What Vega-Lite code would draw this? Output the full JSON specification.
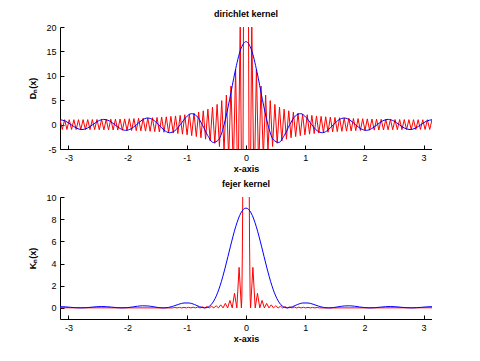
{
  "$schema": "https://vega.github.io/schema/vega-lite/v6.json",
  "padding": {"left": 28, "top": 10, "right": 0, "bottom": 0},
  "spacing": 7,
  "config": {
    "view": {"stroke": null},
    "font": "Liberation Sans",
    "axis": {"grid": false, "domainColor": "#000", "tickColor": "#000", "labelColor": "#000", "titleColor": "#000", "labelFont": "Liberation Sans", "titleFont": "Liberation Sans", "labelFontSize": 9, "titleFontSize": 9, "titleFontWeight": "bold", "tickSize": -4, "labelPadding": 8, "domainWidth": 1, "tickWidth": 1},
    "axisX": {"titlePadding": 2},
    "axisY": {"titlePadding": 8},
    "title": {"fontSize": 9, "fontWeight": "bold", "font": "Liberation Sans", "offset": 4, "color": "#000"}
  },
  "datasets": {
    "dRed": [
      {"x": -3.1416, "y": 1.0}, {"x": -3.1026, "y": -1.0}, {"x": -3.0636, "y": 1.001}, {"x": -3.0246, "y": -1.002}, {"x": -2.9855, "y": 1.003}, {"x": -2.9465, "y": -1.005}, {"x": -2.9075, "y": 1.007}, {"x": -2.8685, "y": -1.009}, {"x": -2.8294, "y": 1.012}, {"x": -2.7904, "y": -1.016}, {"x": -2.7514, "y": 1.019}, {"x": -2.7124, "y": -1.024}, {"x": -2.6733, "y": 1.028}, {"x": -2.6343, "y": -1.033}, {"x": -2.5953, "y": 1.039}, {"x": -2.5562, "y": -1.044}, {"x": -2.5172, "y": 1.051}, {"x": -2.4782, "y": -1.058}, {"x": -2.4392, "y": 1.065}, {"x": -2.4001, "y": -1.073}, {"x": -2.3611, "y": 1.081}, {"x": -2.3221, "y": -1.09}, {"x": -2.2831, "y": 1.1}, {"x": -2.244, "y": -1.11}, {"x": -2.205, "y": 1.121}, {"x": -2.166, "y": -1.132}, {"x": -2.127, "y": 1.144}, {"x": -2.0879, "y": -1.157}, {"x": -2.0489, "y": 1.17}, {"x": -2.0099, "y": -1.185}, {"x": -1.9708, "y": 1.2}, {"x": -1.9318, "y": -1.216}, {"x": -1.8928, "y": 1.233}, {"x": -1.8538, "y": -1.25}, {"x": -1.8147, "y": 1.269}, {"x": -1.7757, "y": -1.289}, {"x": -1.7367, "y": 1.31}, {"x": -1.6977, "y": -1.332}, {"x": -1.6586, "y": 1.356}, {"x": -1.6196, "y": -1.381}, {"x": -1.5806, "y": 1.407}, {"x": -1.5416, "y": -1.435}, {"x": -1.5025, "y": 1.465}, {"x": -1.4635, "y": -1.497}, {"x": -1.4245, "y": 1.53}, {"x": -1.3854, "y": -1.566}, {"x": -1.3464, "y": 1.604}, {"x": -1.3074, "y": -1.644}, {"x": -1.2684, "y": 1.688}, {"x": -1.2293, "y": -1.734}, {"x": -1.1903, "y": 1.784}, {"x": -1.1513, "y": -1.837}, {"x": -1.1123, "y": 1.894}, {"x": -1.0732, "y": -1.956}, {"x": -1.0342, "y": 2.023}, {"x": -0.9952, "y": -2.095}, {"x": -0.9562, "y": 2.174}, {"x": -0.9171, "y": -2.259}, {"x": -0.8781, "y": 2.353}, {"x": -0.8391, "y": -2.454}, {"x": -0.8, "y": 2.567}, {"x": -0.761, "y": -2.692}, {"x": -0.722, "y": 2.831}, {"x": -0.683, "y": -2.986}, {"x": -0.6439, "y": 3.16}, {"x": -0.6049, "y": -3.357}, {"x": -0.5659, "y": 3.582}, {"x": -0.5269, "y": -3.84}, {"x": -0.4878, "y": 4.141}, {"x": -0.4488, "y": -4.494}, {"x": -0.4098, "y": 4.915}, {"x": -0.3708, "y": -5.425}, {"x": -0.3317, "y": 6.057}, {"x": -0.2927, "y": -6.857}, {"x": -0.2537, "y": 7.905}, {"x": -0.2146, "y": -9.336}, {"x": -0.1756, "y": 11.4}, {"x": -0.1366, "y": -14.65}, {"x": -0.0976, "y": 20.51}, {"x": -0.0585, "y": -34.17}, {"x": -0.0195, "y": 102.5},
      {"x": 0, "y": 161},
      {"x": 0.0195, "y": 102.5}, {"x": 0.0585, "y": -34.17}, {"x": 0.0976, "y": 20.51}, {"x": 0.1366, "y": -14.65}, {"x": 0.1756, "y": 11.4}, {"x": 0.2146, "y": -9.336}, {"x": 0.2537, "y": 7.905}, {"x": 0.2927, "y": -6.857}, {"x": 0.3317, "y": 6.057}, {"x": 0.3708, "y": -5.425}, {"x": 0.4098, "y": 4.915}, {"x": 0.4488, "y": -4.494}, {"x": 0.4878, "y": 4.141}, {"x": 0.5269, "y": -3.84}, {"x": 0.5659, "y": 3.582}, {"x": 0.6049, "y": -3.357}, {"x": 0.6439, "y": 3.16}, {"x": 0.683, "y": -2.986}, {"x": 0.722, "y": 2.831}, {"x": 0.761, "y": -2.692}, {"x": 0.8, "y": 2.567}, {"x": 0.8391, "y": -2.454}, {"x": 0.8781, "y": 2.353}, {"x": 0.9171, "y": -2.259}, {"x": 0.9562, "y": 2.174}, {"x": 0.9952, "y": -2.095}, {"x": 1.0342, "y": 2.023}, {"x": 1.0732, "y": -1.956}, {"x": 1.1123, "y": 1.894}, {"x": 1.1513, "y": -1.837}, {"x": 1.1903, "y": 1.784}, {"x": 1.2293, "y": -1.734}, {"x": 1.2684, "y": 1.688}, {"x": 1.3074, "y": -1.644}, {"x": 1.3464, "y": 1.604}, {"x": 1.3854, "y": -1.566}, {"x": 1.4245, "y": 1.53}, {"x": 1.4635, "y": -1.497}, {"x": 1.5025, "y": 1.465}, {"x": 1.5416, "y": -1.435}, {"x": 1.5806, "y": 1.407}, {"x": 1.6196, "y": -1.381}, {"x": 1.6586, "y": 1.356}, {"x": 1.6977, "y": -1.332}, {"x": 1.7367, "y": 1.31}, {"x": 1.7757, "y": -1.289}, {"x": 1.8147, "y": 1.269}, {"x": 1.8538, "y": -1.25}, {"x": 1.8928, "y": 1.233}, {"x": 1.9318, "y": -1.216}, {"x": 1.9708, "y": 1.2}, {"x": 2.0099, "y": -1.185}, {"x": 2.0489, "y": 1.17}, {"x": 2.0879, "y": -1.157}, {"x": 2.127, "y": 1.144}, {"x": 2.166, "y": -1.132}, {"x": 2.205, "y": 1.121}, {"x": 2.244, "y": -1.11}, {"x": 2.2831, "y": 1.1}, {"x": 2.3221, "y": -1.09}, {"x": 2.3611, "y": 1.081}, {"x": 2.4001, "y": -1.073}, {"x": 2.4392, "y": 1.065}, {"x": 2.4782, "y": -1.058}, {"x": 2.5172, "y": 1.051}, {"x": 2.5562, "y": -1.044}, {"x": 2.5953, "y": 1.039}, {"x": 2.6343, "y": -1.033}, {"x": 2.6733, "y": 1.028}, {"x": 2.7124, "y": -1.024}, {"x": 2.7514, "y": 1.019}, {"x": 2.7904, "y": -1.016}, {"x": 2.8294, "y": 1.012}, {"x": 2.8685, "y": -1.009}, {"x": 2.9075, "y": 1.007}, {"x": 2.9465, "y": -1.005}, {"x": 2.9855, "y": 1.003}, {"x": 3.0246, "y": -1.002}, {"x": 3.0636, "y": 1.001}, {"x": 3.1026, "y": -1.0}, {"x": 3.1416, "y": 1.0}
    ],
    "dBlue": [
      {"x": -3.1416, "y": 1.0}, {"x": -3.0492, "y": 0.708}, {"x": -2.9568, "y": 0}, {"x": -2.8644, "y": -0.714}, {"x": -2.772, "y": -1.017}, {"x": -2.6796, "y": -0.726}, {"x": -2.5872, "y": 0}, {"x": -2.4948, "y": 0.746}, {"x": -2.4024, "y": 1.072}, {"x": -2.31, "y": 0.773}, {"x": -2.2176, "y": 0}, {"x": -2.1252, "y": -0.81}, {"x": -2.0328, "y": -1.176}, {"x": -1.9404, "y": -0.857}, {"x": -1.848, "y": 0}, {"x": -1.7556, "y": 0.919}, {"x": -1.6632, "y": 1.353}, {"x": -1.5708, "y": 1.0}, {"x": -1.4784, "y": 0}, {"x": -1.386, "y": -1.107}, {"x": -1.2936, "y": -1.659}, {"x": -1.2012, "y": -1.251}, {"x": -1.1088, "y": 0}, {"x": -1.0164, "y": 1.453}, {"x": -0.924, "y": 2.244}, {"x": -0.8316, "y": 1.751}, {"x": -0.7392, "y": 0}, {"x": -0.6468, "y": -2.225}, {"x": -0.5544, "y": -3.654}, {"x": -0.462, "y": -3.089}, {"x": -0.3696, "y": 0}, {"x": -0.2772, "y": 5.118}, {"x": -0.1848, "y": 10.84}, {"x": -0.0924, "y": 15.31},
      {"x": 0, "y": 17},
      {"x": 0.0924, "y": 15.31}, {"x": 0.1848, "y": 10.84}, {"x": 0.2772, "y": 5.118}, {"x": 0.3696, "y": 0}, {"x": 0.462, "y": -3.089}, {"x": 0.5544, "y": -3.654}, {"x": 0.6468, "y": -2.225}, {"x": 0.7392, "y": 0}, {"x": 0.8316, "y": 1.751}, {"x": 0.924, "y": 2.244}, {"x": 1.0164, "y": 1.453}, {"x": 1.1088, "y": 0}, {"x": 1.2012, "y": -1.251}, {"x": 1.2936, "y": -1.659}, {"x": 1.386, "y": -1.107}, {"x": 1.4784, "y": 0}, {"x": 1.5708, "y": 1.0}, {"x": 1.6632, "y": 1.353}, {"x": 1.7556, "y": 0.919}, {"x": 1.848, "y": 0}, {"x": 1.9404, "y": -0.857}, {"x": 2.0328, "y": -1.176}, {"x": 2.1252, "y": -0.81}, {"x": 2.2176, "y": 0}, {"x": 2.31, "y": 0.773}, {"x": 2.4024, "y": 1.072}, {"x": 2.4948, "y": 0.746}, {"x": 2.5872, "y": 0}, {"x": 2.6796, "y": -0.726}, {"x": 2.772, "y": -1.017}, {"x": 2.8644, "y": -0.714}, {"x": 2.9568, "y": 0}, {"x": 3.0492, "y": 0.708}, {"x": 3.1416, "y": 1.0}
    ],
    "fRed": [
      {"x": -3.1416, "y": 0.012}, {"x": -1.2411, "y": 0}, {"x": -1.2023, "y": 0.039}, {"x": -1.1636, "y": 0}, {"x": -1.1248, "y": 0.043}, {"x": -1.086, "y": 0}, {"x": -1.0472, "y": 0.049}, {"x": -1.0084, "y": 0}, {"x": -0.9696, "y": 0.057}, {"x": -0.9308, "y": 0}, {"x": -0.8921, "y": 0.066}, {"x": -0.8533, "y": 0}, {"x": -0.8145, "y": 0.079}, {"x": -0.7757, "y": 0}, {"x": -0.7369, "y": 0.095}, {"x": -0.6981, "y": 0}, {"x": -0.6594, "y": 0.118}, {"x": -0.6206, "y": 0}, {"x": -0.5818, "y": 0.15}, {"x": -0.543, "y": 0}, {"x": -0.5042, "y": 0.198}, {"x": -0.4654, "y": 0}, {"x": -0.4266, "y": 0.276}, {"x": -0.3879, "y": 0}, {"x": -0.3491, "y": 0.409}, {"x": -0.3103, "y": 0}, {"x": -0.2715, "y": 0.674}, {"x": -0.2327, "y": 0}, {"x": -0.1939, "y": 1.317}, {"x": -0.1551, "y": 0}, {"x": -0.1164, "y": 3.652}, {"x": -0.0776, "y": 0}, {"x": -0.07, "y": 0.923}, {"x": -0.06, "y": 5.862}, {"x": -0.055, "y": 10.24}, {"x": -0.05, "y": 15.97}, {"x": -0.04, "y": 30.79},
      {"x": 0, "y": 81},
      {"x": 0.04, "y": 30.79}, {"x": 0.05, "y": 15.97}, {"x": 0.055, "y": 10.24}, {"x": 0.06, "y": 5.862}, {"x": 0.07, "y": 0.923}, {"x": 0.0776, "y": 0}, {"x": 0.1164, "y": 3.652}, {"x": 0.1551, "y": 0}, {"x": 0.1939, "y": 1.317}, {"x": 0.2327, "y": 0}, {"x": 0.2715, "y": 0.674}, {"x": 0.3103, "y": 0}, {"x": 0.3491, "y": 0.409}, {"x": 0.3879, "y": 0}, {"x": 0.4266, "y": 0.276}, {"x": 0.4654, "y": 0}, {"x": 0.5042, "y": 0.198}, {"x": 0.543, "y": 0}, {"x": 0.5818, "y": 0.15}, {"x": 0.6206, "y": 0}, {"x": 0.6594, "y": 0.118}, {"x": 0.6981, "y": 0}, {"x": 0.7369, "y": 0.095}, {"x": 0.7757, "y": 0}, {"x": 0.8145, "y": 0.079}, {"x": 0.8533, "y": 0}, {"x": 0.8921, "y": 0.066}, {"x": 0.9308, "y": 0}, {"x": 0.9696, "y": 0.057}, {"x": 1.0084, "y": 0}, {"x": 1.0472, "y": 0.049}, {"x": 1.086, "y": 0}, {"x": 1.1248, "y": 0.043}, {"x": 1.1636, "y": 0}, {"x": 1.2023, "y": 0.039}, {"x": 1.2411, "y": 0}, {"x": 3.1416, "y": 0.012}
    ],
    "fBlue": [
      {"x": -3.1416, "y": 0.111}, {"x": -3.0543, "y": 0.095}, {"x": -2.9671, "y": 0.056}, {"x": -2.8798, "y": 0.017}, {"x": -2.7925, "y": 0}, {"x": -2.7053, "y": 0.017}, {"x": -2.618, "y": 0.06}, {"x": -2.5307, "y": 0.104}, {"x": -2.4435, "y": 0.126}, {"x": -2.3562, "y": 0.111}, {"x": -2.2689, "y": 0.068}, {"x": -2.1817, "y": 0.021}, {"x": -2.0944, "y": 0}, {"x": -2.0071, "y": 0.023}, {"x": -1.9199, "y": 0.083}, {"x": -1.8326, "y": 0.151}, {"x": -1.7453, "y": 0.189}, {"x": -1.6581, "y": 0.175}, {"x": -1.5708, "y": 0.111}, {"x": -1.4835, "y": 0.036}, {"x": -1.3963, "y": 0}, {"x": -1.309, "y": 0.044}, {"x": -1.2217, "y": 0.169}, {"x": -1.1345, "y": 0.329}, {"x": -1.0472, "y": 0.444}, {"x": -0.9599, "y": 0.445}, {"x": -0.8727, "y": 0.311}, {"x": -0.7854, "y": 0.111}, {"x": -0.6981, "y": 0}, {"x": -0.6109, "y": 0.18}, {"x": -0.5236, "y": 0.829}, {"x": -0.4363, "y": 2.025}, {"x": -0.3491, "y": 3.685}, {"x": -0.2618, "y": 5.567}, {"x": -0.1745, "y": 7.314}, {"x": -0.0873, "y": 8.552},
      {"x": 0, "y": 9},
      {"x": 0.0873, "y": 8.552}, {"x": 0.1745, "y": 7.314}, {"x": 0.2618, "y": 5.567}, {"x": 0.3491, "y": 3.685}, {"x": 0.4363, "y": 2.025}, {"x": 0.5236, "y": 0.829}, {"x": 0.6109, "y": 0.18}, {"x": 0.6981, "y": 0}, {"x": 0.7854, "y": 0.111}, {"x": 0.8727, "y": 0.311}, {"x": 0.9599, "y": 0.445}, {"x": 1.0472, "y": 0.444}, {"x": 1.1345, "y": 0.329}, {"x": 1.2217, "y": 0.169}, {"x": 1.309, "y": 0.044}, {"x": 1.3963, "y": 0}, {"x": 1.4835, "y": 0.036}, {"x": 1.5708, "y": 0.111}, {"x": 1.6581, "y": 0.175}, {"x": 1.7453, "y": 0.189}, {"x": 1.8326, "y": 0.151}, {"x": 1.9199, "y": 0.083}, {"x": 2.0071, "y": 0.023}, {"x": 2.0944, "y": 0}, {"x": 2.1817, "y": 0.021}, {"x": 2.2689, "y": 0.068}, {"x": 2.3562, "y": 0.111}, {"x": 2.4435, "y": 0.126}, {"x": 2.5307, "y": 0.104}, {"x": 2.618, "y": 0.06}, {"x": 2.7053, "y": 0.017}, {"x": 2.7925, "y": 0}, {"x": 2.8798, "y": 0.017}, {"x": 2.9671, "y": 0.056}, {"x": 3.0543, "y": 0.095}, {"x": 3.1416, "y": 0.111}
    ]
  },
  "vconcat": [
    {
      "width": 372,
      "height": 122,
      "title": "dirichlet kernel",
      "encoding": {
        "x": {"field": "x", "type": "quantitative", "scale": {"domain": [-3.1416, 3.1416], "nice": false, "zero": false}, "axis": {"values": [-3, -2, -1, 0, 1, 2, 3], "title": "x-axis", "labelExpr": "datum.value"}},
        "y": {"field": "y", "type": "quantitative", "scale": {"domain": [-5, 20], "nice": false, "zero": false}, "axis": {"values": [-5, 0, 5, 10, 15, 20], "title": "Dₙ(x)", "labelExpr": "datum.value"}}
      },
      "layer": [
        {"data": {"name": "dRed"}, "mark": {"type": "line", "color": "#ff0000", "strokeWidth": 1, "clip": true}},
        {"data": {"name": "dBlue"}, "mark": {"type": "line", "color": "#0000ff", "strokeWidth": 1, "interpolate": "monotone", "clip": true}}
      ]
    },
    {
      "width": 372,
      "height": 122,
      "title": "fejer kernel",
      "encoding": {
        "x": {"field": "x", "type": "quantitative", "scale": {"domain": [-3.1416, 3.1416], "nice": false, "zero": false}, "axis": {"values": [-3, -2, -1, 0, 1, 2, 3], "title": "x-axis", "labelExpr": "datum.value"}},
        "y": {"field": "y", "type": "quantitative", "scale": {"domain": [-1, 10], "nice": false, "zero": false}, "axis": {"values": [0, 2, 4, 6, 8, 10], "title": "Kₙ(x)", "labelExpr": "datum.value"}}
      },
      "layer": [
        {"data": {"name": "fRed"}, "mark": {"type": "line", "color": "#ff0000", "strokeWidth": 1, "clip": true}},
        {"data": {"name": "fBlue"}, "mark": {"type": "line", "color": "#0000ff", "strokeWidth": 1, "interpolate": "monotone", "clip": true}}
      ]
    }
  ]
}
